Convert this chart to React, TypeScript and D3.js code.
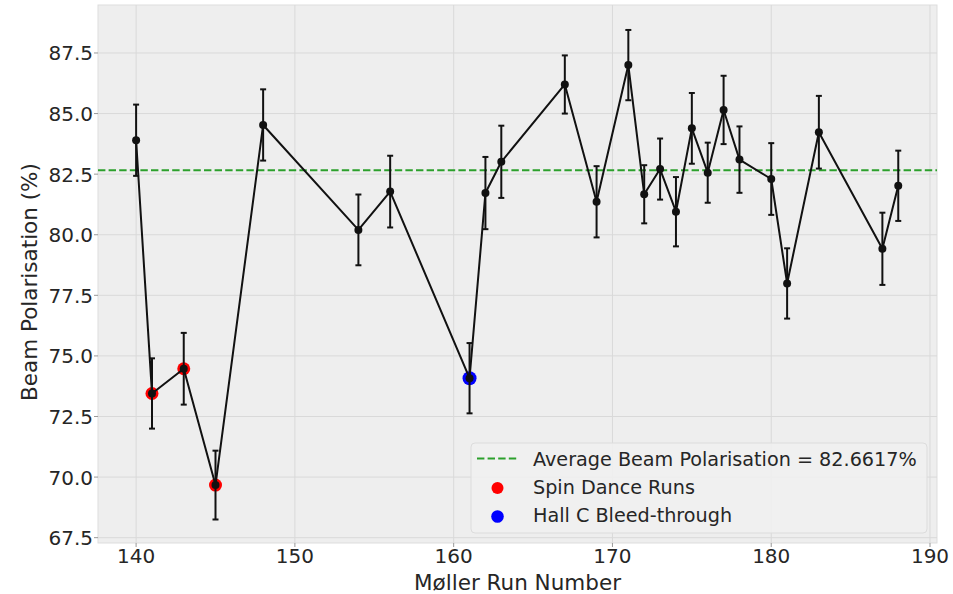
import * as d3 from 'd3';
import React, {useEffect, useRef} from 'react';

// Møller runs
const runs = [140, 141, 143, 145, 148, 154, 156, 161, 162, 163, 167, 169, 171, 172, 173, 174, 175, 176, 177, 178, 180, 181, 183, 187, 188];
const polarisation = [83.9, 73.45, 74.47, 69.67, 84.53, 80.2, 81.78, 74.08, 81.72, 83.01, 86.2, 81.36, 87.0, 81.67, 82.71, 80.95, 84.39, 82.56, 85.15, 83.1, 82.3, 77.99, 84.23, 79.42, 82.02];
const errors = [1.47, 1.45, 1.48, 1.42, 1.47, 1.46, 1.48, 1.45, 1.49, 1.49, 1.2, 1.47, 1.45, 1.2, 1.26, 1.43, 1.46, 1.24, 1.41, 1.37, 1.48, 1.45, 1.5, 1.49, 1.45];

const spinDanceRuns = [141, 143, 145];
const hallCRuns = [161];
const averagePol = 82.6617;

const xTicks = [140, 150, 160, 170, 180, 190];
const yTicks = [67.5, 70.0, 72.5, 75.0, 77.5, 80.0, 82.5, 85.0, 87.5];

const legendLabels = ['Average Beam Polarisation = 82.6617%', 'Spin Dance Runs', 'Hall C Bleed-through'];

const App = () => {

  const svgRef = useRef(null);

  useEffect(() => {
    const svg = d3.select(svgRef.current);
    svg.selectAll('*').remove();

    const width = 953;
    const height = 594;
    const left = 98, right = 937, top = 5, bottom = 543;
    const font = 'DejaVu Sans, sans-serif';

    const data = runs.map((r, i) => ({run: r, pol: polarisation[i], err: errors[i]}));

    // matplotlib default 5% margins
    const x = d3.scaleLinear().domain([137.6, 190.44]).range([left, right]);
    const y = d3.scaleLinear().domain([67.28, 89.48]).range([bottom, top]);

    svg.append('rect').attr('width', width).attr('height', height).attr('fill', '#ffffff');

    // axes background
    svg.append('rect')
      .attr('x', left).attr('y', top)
      .attr('width', right - left).attr('height', bottom - top)
      .attr('fill', '#eeeeee')
      .attr('stroke', '#dddddd')
      .attr('stroke-width', 1);

    // grid
    const grid = svg.append('g');
    grid.selectAll('.gx').data(xTicks).enter().append('line')
      .attr('x1', d => x(d)).attr('x2', d => x(d))
      .attr('y1', top).attr('y2', bottom)
      .attr('stroke', '#d9d9d9').attr('stroke-width', 1);
    grid.selectAll('.gy').data(yTicks).enter().append('line')
      .attr('x1', left).attr('x2', right)
      .attr('y1', d => y(d)).attr('y2', d => y(d))
      .attr('stroke', '#d9d9d9').attr('stroke-width', 1);

    // ticks + labels
    const ax = svg.append('g');
    xTicks.forEach(t => {
      ax.append('line')
        .attr('x1', x(t)).attr('x2', x(t)).attr('y1', bottom).attr('y2', bottom + 4)
        .attr('stroke', '#999').attr('stroke-width', 1);
      ax.append('text')
        .attr('x', x(t)).attr('y', 563)
        .attr('text-anchor', 'middle')
        .attr('font-family', font).attr('font-size', 20).attr('fill', '#262626')
        .text(t);
    });
    yTicks.forEach(t => {
      ax.append('line')
        .attr('x1', left - 4).attr('x2', left).attr('y1', y(t)).attr('y2', y(t))
        .attr('stroke', '#999').attr('stroke-width', 1);
      ax.append('text')
        .attr('x', 93).attr('y', y(t) + 7.5)
        .attr('text-anchor', 'end')
        .attr('font-family', font).attr('font-size', 20).attr('fill', '#262626')
        .text(t.toFixed(1));
    });

    svg.append('text')
      .attr('x', (left + right) / 2).attr('y', 590)
      .attr('text-anchor', 'middle')
      .attr('font-family', font).attr('font-size', 21.5).attr('fill', '#262626')
      .text('Møller Run Number');

    svg.append('text')
      .attr('transform', `translate(37,${(top + bottom) / 2 + 8}) rotate(-90)`)
      .attr('text-anchor', 'middle')
      .attr('font-family', font).attr('font-size', 21.5).attr('fill', '#262626')
      .text('Beam Polarisation (%)');

    // average line
    svg.append('line')
      .attr('x1', left).attr('x2', right)
      .attr('y1', y(averagePol)).attr('y2', y(averagePol))
      .attr('stroke', '#2ca02c').attr('stroke-width', 2.2)
      .attr('stroke-dasharray', '7.4,3.2');

    // highlighted runs under the errorbar markers
    svg.selectAll('.spin').data(data.filter(d => spinDanceRuns.includes(d.run))).enter().append('circle')
      .attr('cx', d => x(d.run)).attr('cy', d => y(d.pol)).attr('r', 6.5)
      .attr('fill', '#ff0000');
    svg.selectAll('.hallc').data(data.filter(d => hallCRuns.includes(d.run))).enter().append('circle')
      .attr('cx', d => x(d.run)).attr('cy', d => y(d.pol)).attr('r', 7)
      .attr('fill', '#0000ff');

    // errorbars
    const eb = svg.append('g').attr('stroke', '#111').attr('stroke-width', 2);
    data.forEach(d => {
      eb.append('line')
        .attr('x1', x(d.run)).attr('x2', x(d.run))
        .attr('y1', y(d.pol - d.err)).attr('y2', y(d.pol + d.err));
      [d.pol - d.err, d.pol + d.err].forEach(v => {
        eb.append('line')
          .attr('x1', x(d.run) - 3).attr('x2', x(d.run) + 3)
          .attr('y1', y(v)).attr('y2', y(v));
      });
    });

    const line = d3.line().x(d => x(d.run)).y(d => y(d.pol));
    svg.append('path')
      .datum(data)
      .attr('d', line)
      .attr('fill', 'none')
      .attr('stroke', '#111')
      .attr('stroke-width', 2)
      .attr('stroke-linejoin', 'round');

    svg.selectAll('.pt').data(data).enter().append('circle')
      .attr('cx', d => x(d.run)).attr('cy', d => y(d.pol)).attr('r', 4)
      .attr('fill', '#111');

    // legend
    const lg = svg.append('g');
    lg.append('rect')
      .attr('x', 471).attr('y', 443).attr('width', 456).attr('height', 90)
      .attr('rx', 4)
      .attr('fill', '#efefef').attr('fill-opacity', 0.9)
      .attr('stroke', '#dcdcdc');
    lg.append('line')
      .attr('x1', 477).attr('x2', 518).attr('y1', 458.5).attr('y2', 458.5)
      .attr('stroke', '#2ca02c').attr('stroke-width', 2.2)
      .attr('stroke-dasharray', '7.4,3.2');
    lg.append('circle').attr('cx', 497.5).attr('cy', 488).attr('r', 6).attr('fill', '#ff0000');
    lg.append('circle').attr('cx', 497.5).attr('cy', 516.5).attr('r', 6.3).attr('fill', '#0000ff');
    const baselines = [465.5, 494, 521.5];
    legendLabels.forEach((lab, i) => {
      lg.append('text')
        .attr('x', 533).attr('y', baselines[i])
        .attr('font-family', font).attr('font-size', 19.2).attr('fill', '#262626')
        .text(lab);
    });

  }, []);

  return (
    <div style={{position: 'absolute', left: 0, top: 0}}>
      <svg ref={svgRef} width="953" height="594" style={{display: 'block'}}></svg>
    </div>
  );
};

export default App;
